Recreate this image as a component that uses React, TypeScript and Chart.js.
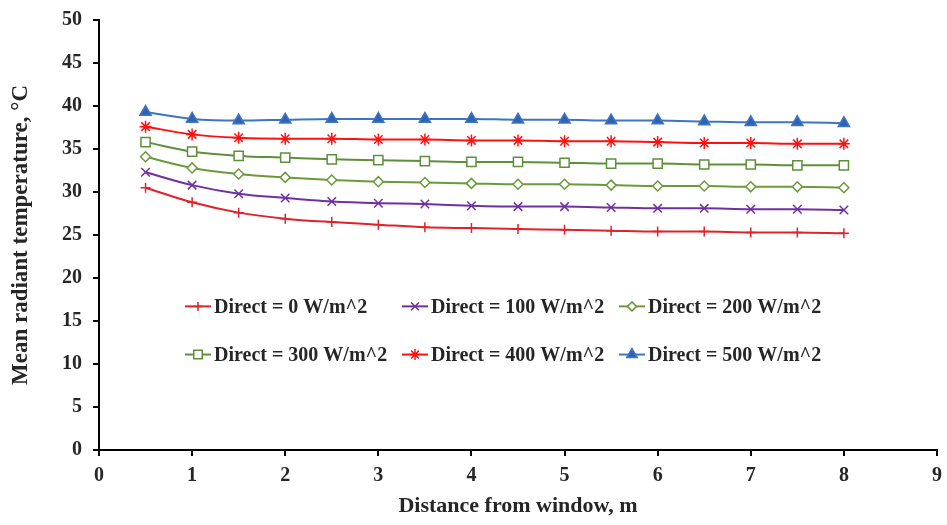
import React, { useEffect, useRef } from "react";
import { Chart, registerables } from "chart.js";
import { drawPoint } from "chart.js/helpers";

Chart.register(...registerables);

const distances = [0.5, 1, 1.5, 2, 2.5, 3, 3.5, 4, 4.5, 5, 5.5, 6, 6.5, 7, 7.5, 8];
const direct0 = [30.5, 28.8, 27.6, 26.9, 26.5, 26.2, 25.9, 25.8, 25.7, 25.6, 25.5, 25.4, 25.4, 25.3, 25.3, 25.2];
const direct100 = [32.3, 30.8, 29.8, 29.3, 28.9, 28.7, 28.6, 28.4, 28.3, 28.3, 28.2, 28.1, 28.1, 28.0, 28.0, 27.9];
const direct200 = [34.1, 32.8, 32.1, 31.7, 31.4, 31.2, 31.1, 31.0, 30.9, 30.9, 30.8, 30.7, 30.7, 30.6, 30.6, 30.5];
const direct300 = [35.8, 34.7, 34.2, 34.0, 33.8, 33.7, 33.6, 33.5, 33.5, 33.4, 33.3, 33.3, 33.2, 33.2, 33.1, 33.1];
const direct400 = [37.6, 36.7, 36.3, 36.2, 36.2, 36.1, 36.1, 36.0, 36.0, 35.9, 35.9, 35.8, 35.7, 35.7, 35.6, 35.6];
const direct500 = [39.3, 38.5, 38.3, 38.4, 38.5, 38.5, 38.5, 38.5, 38.4, 38.4, 38.3, 38.3, 38.2, 38.1, 38.1, 38.0];

const seriesLabels = [
  "Direct = 0 W/m^2",
  "Direct = 100 W/m^2",
  "Direct = 200 W/m^2",
  "Direct = 300 W/m^2",
  "Direct = 400 W/m^2",
  "Direct = 500 W/m^2",
];
const xTitle = "Distance from window, m";
const yTitle = "Mean radiant temperature, °C";

const FONT = "'Liberation Serif', 'Times New Roman', serif";

const styles = [
  { color: "#E0222A", fill: "#E0222A", point: "cross", radius: 5 },
  { color: "#7030A0", fill: "#7030A0", point: "crossRot", radius: 6 },
  { color: "#6B9A3A", fill: "#ffffff", point: "rectRot", radius: 5 },
  { color: "#5E8F3A", fill: "#ffffff", point: "rect", radius: 6.5 },
  { color: "#FF1010", fill: "#FF1010", point: "star", radius: 6 },
  { color: "#3E75C0", fill: "#2F62B2", point: "triangle", radius: 6.5 },
];

const legendPlugin = {
  id: "insideLegend",
  afterDatasetsDraw(chart: any) {
    const { ctx, chartArea, scales } = chart;
    const colW = 217;
    const left = chartArea.left + 86;
    const rowYs = [scales.y.getPixelForValue(16.7), scales.y.getPixelForValue(11.1)];
    ctx.save();
    ctx.font = `bold 20px ${FONT}`;
    ctx.textBaseline = "middle";
    ctx.textAlign = "left";
    chart.data.datasets.forEach((ds: any, i: number) => {
      const col = i % 3;
      const row = Math.floor(i / 3);
      const x = left + col * colW;
      const y = rowYs[row];
      const st = styles[i];
      ctx.strokeStyle = st.color;
      ctx.lineWidth = 2;
      ctx.beginPath();
      ctx.moveTo(x, y);
      ctx.lineTo(x + 26, y);
      ctx.stroke();
      ctx.fillStyle = st.fill;
      ctx.strokeStyle = st.color;
      ctx.lineWidth = 1.5;
      drawPoint(ctx, { pointStyle: st.point, rotation: 0, radius: st.radius - 0.5, borderWidth: 1.5 }, x + 13, y);
      ctx.fillStyle = "#262626";
      ctx.fillText(ds.label, x + 29, y + 1);
    });
    ctx.restore();
  },
};

export default function App() {
  const ref = useRef<HTMLCanvasElement>(null);
  useEffect(() => {
    const seriesData = [direct0, direct100, direct200, direct300, direct400, direct500];
    const chart = new Chart(ref.current!, {
      type: "line",
      data: {
        datasets: seriesData.map((vals, i) => ({
          label: seriesLabels[i],
          data: distances.map((d, j) => ({ x: d, y: vals[j] })),
          borderColor: styles[i].color,
          backgroundColor: styles[i].fill,
          pointBorderColor: styles[i].color,
          pointBackgroundColor: styles[i].fill,
          pointStyle: styles[i].point as any,
          pointRadius: styles[i].radius,
          pointBorderWidth: 1.5,
          borderWidth: 2,
          cubicInterpolationMode: "monotone" as const,
          fill: false,
        })),
      },
      options: {
        animation: false,
        responsive: false,
        maintainAspectRatio: false,
        layout: { padding: { top: 20, right: 10, left: 0, bottom: 0 } },
        plugins: {
          legend: { display: false },
          tooltip: { enabled: false },
        },
        scales: {
          x: {
            type: "linear",
            min: 0,
            max: 9,
            afterFit(scale: any) {
              scale.height = 75;
              scale.paddingRight = 0;
              scale.paddingLeft = 0;
            },
            ticks: {
              stepSize: 1,
              color: "#262626",
              padding: 8,
              font: { family: FONT, size: 20, weight: "bold" },
            },
            grid: { drawOnChartArea: false, drawTicks: true, tickLength: 6, color: "#000", lineWidth: 2 },
            border: { display: true, color: "#000", width: 2 },
            title: {
              display: true,
              text: xTitle,
              color: "#262626",
              padding: { top: 0, bottom: 5 },
              font: { family: FONT, size: 22, weight: "bold" },
            },
          },
          y: {
            type: "linear",
            min: 0,
            max: 50,
            afterFit(scale: any) {
              scale.width = 99;
              scale.paddingTop = 0;
              scale.paddingBottom = 0;
            },
            ticks: {
              stepSize: 5,
              color: "#262626",
              padding: 11,
              font: { family: FONT, size: 20, weight: "bold" },
            },
            grid: { drawOnChartArea: false, drawTicks: true, tickLength: 6, color: "#000", lineWidth: 2 },
            border: { display: true, color: "#000", width: 2 },
            title: {
              display: true,
              text: yTitle,
              color: "#262626",
              padding: { top: 7, bottom: 0 },
              font: { family: FONT, size: 23, weight: "bold" },
            },
          },
        },
      },
      plugins: [legendPlugin],
    });
    return () => chart.destroy();
  }, []);
  return (
    <div style={{ position: "fixed", left: 0, top: 0, width: 947, height: 525, background: "#fff" }}>
      <canvas ref={ref} width={947} height={525} style={{ width: 947, height: 525, display: "block" }} />
    </div>
  );
}
